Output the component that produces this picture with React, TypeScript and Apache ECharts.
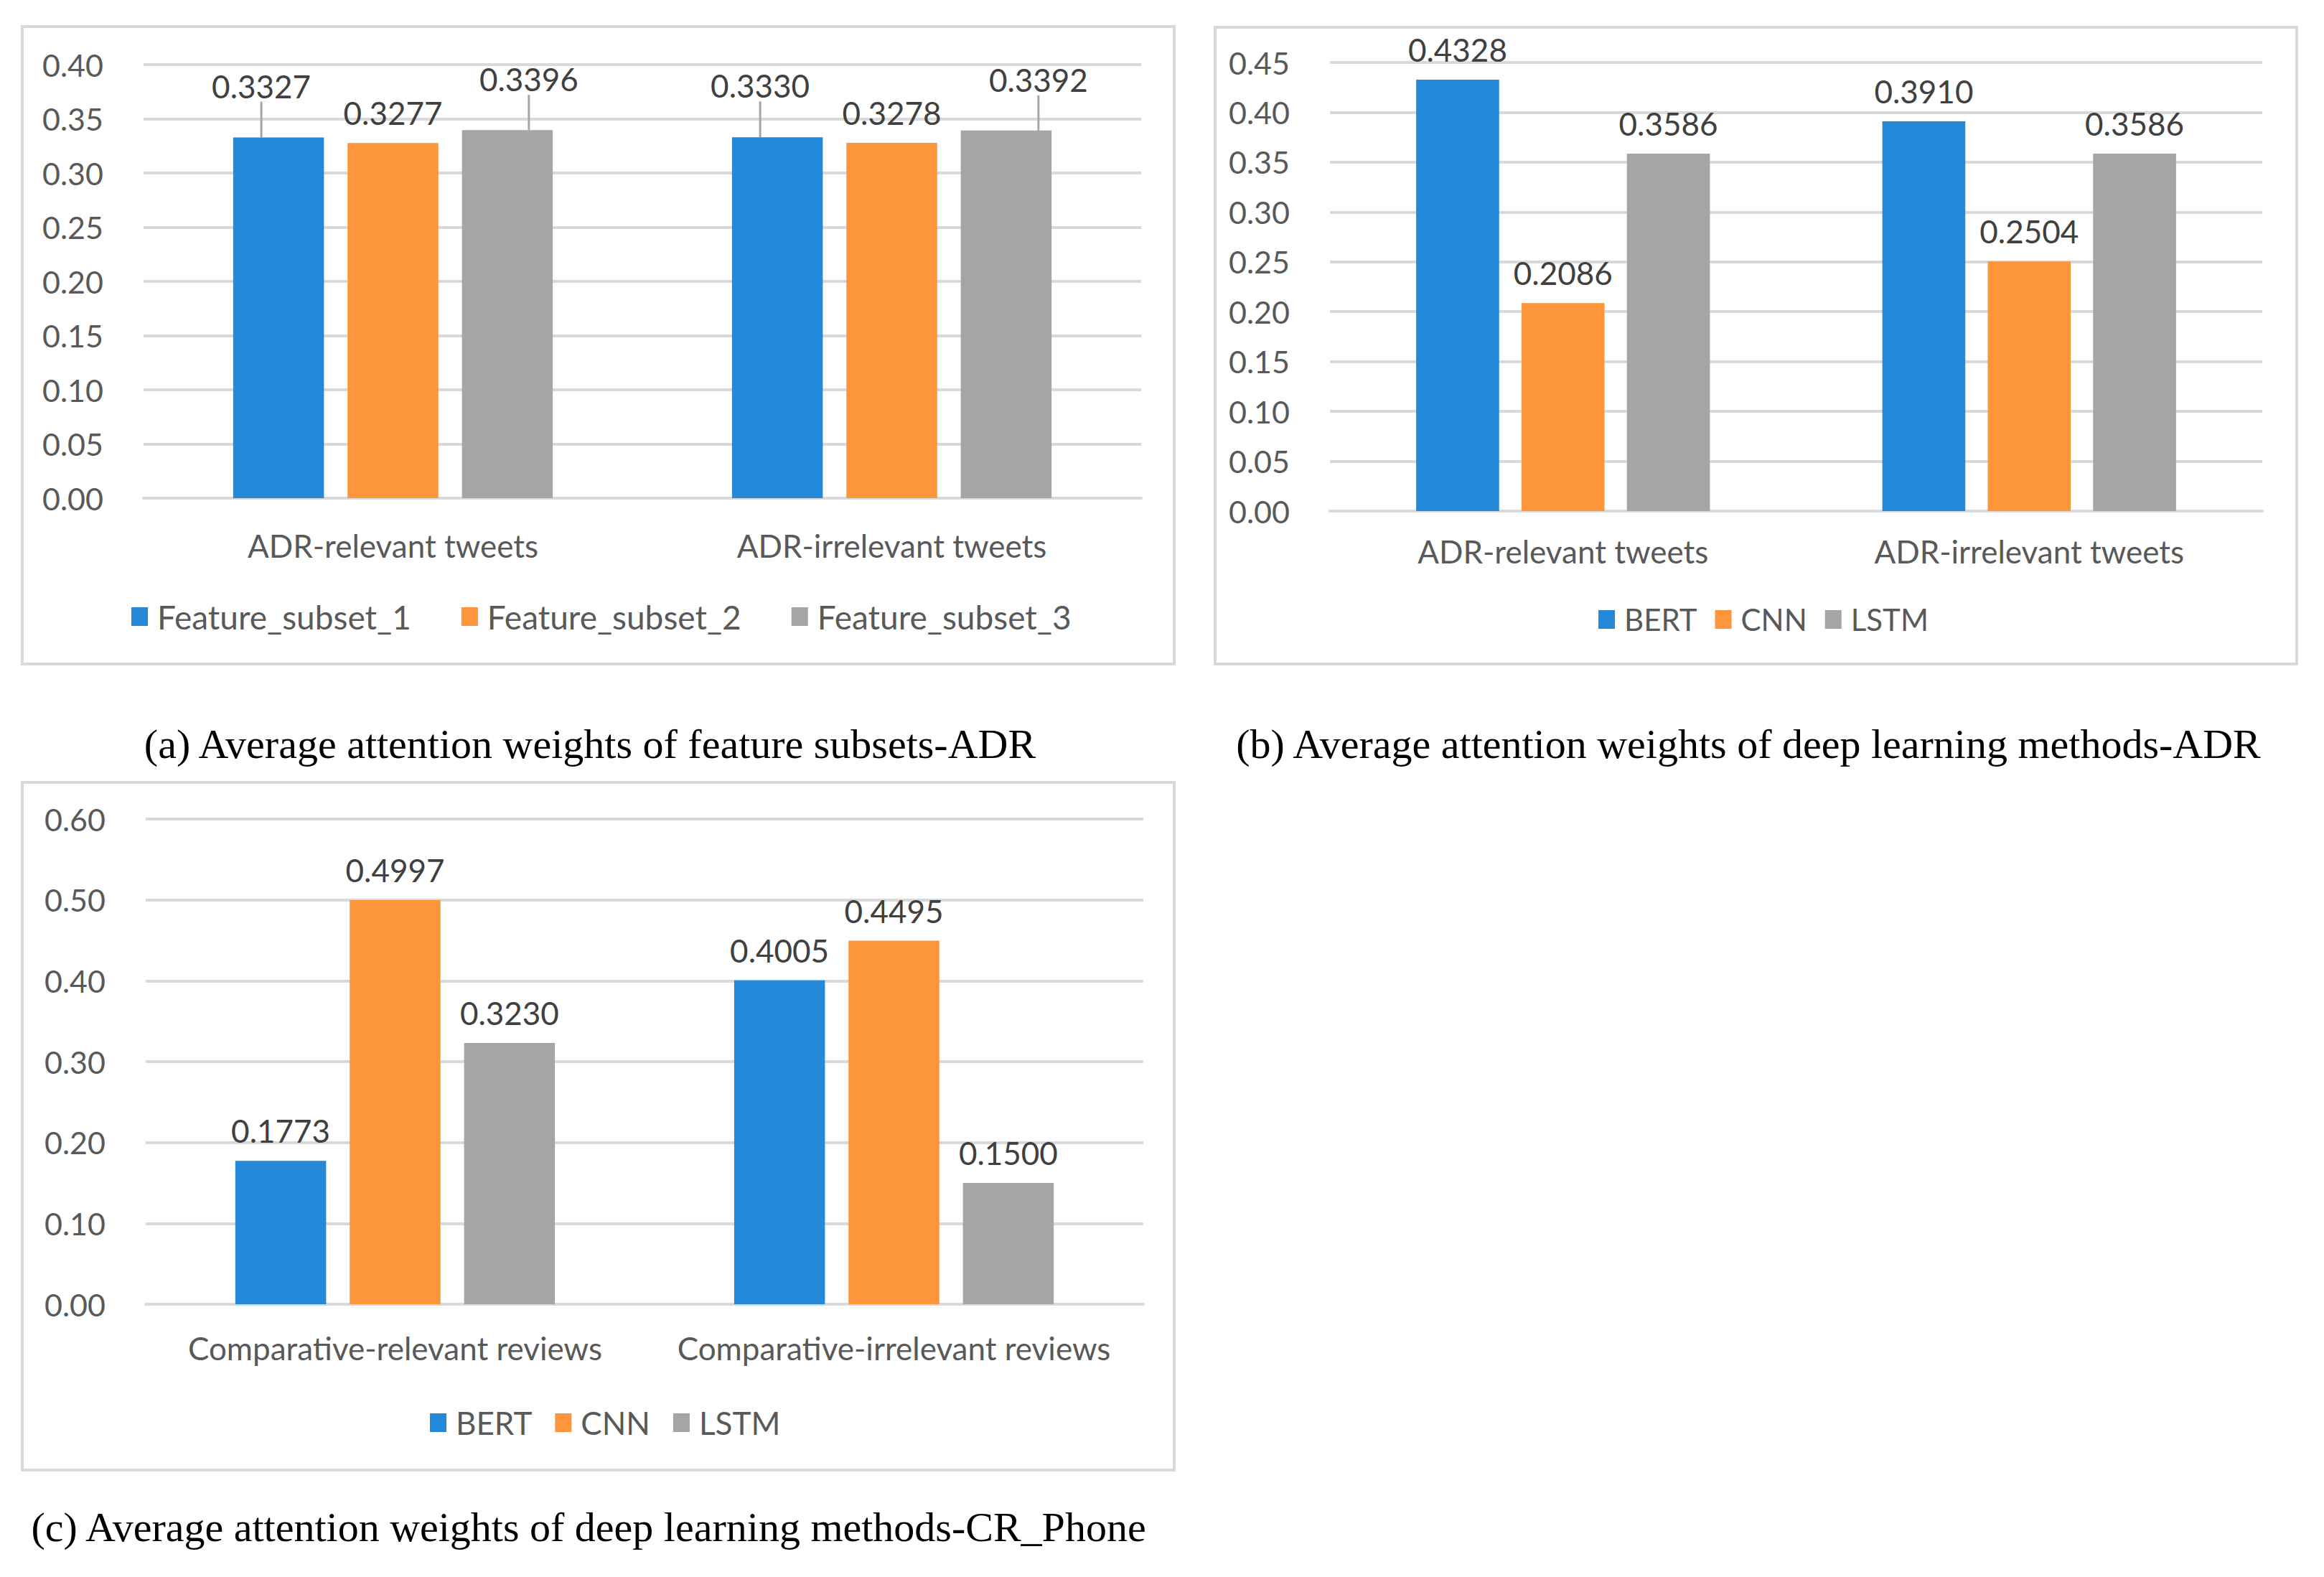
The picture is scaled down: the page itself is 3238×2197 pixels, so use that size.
import React, { useEffect, useRef } from "react";
import * as echarts from "echarts";

const categoriesADR = ["ADR-relevant tweets", "ADR-irrelevant tweets"];
const categoriesCR = ["Comparative-relevant reviews", "Comparative-irrelevant reviews"];

const featureSubset1 = [0.3327, 0.333];
const featureSubset2 = [0.3277, 0.3278];
const featureSubset3 = [0.3396, 0.3392];

const bertADR = [0.4328, 0.391];
const cnnADR = [0.2086, 0.2504];
const lstmADR = [0.3586, 0.3586];

const bertCR = [0.1773, 0.4005];
const cnnCR = [0.4997, 0.4495];
const lstmCR = [0.323, 0.15];

const namesA = ["Feature_subset_1", "Feature_subset_2", "Feature_subset_3"];
const namesDL = ["BERT", "CNN", "LSTM"];

const captionA = "(a) Average attention weights of feature subsets-ADR";
const captionB = "(b) Average attention weights of deep learning methods-ADR";
const captionC = "(c) Average attention weights of deep learning methods-CR_Phone";

const COLORS = ["#2389d8", "#fd953c", "#a5a5a5"];
const FONT = "Lato";
const AXIS_TEXT = "#595959";
const LABEL_TEXT = "#404040";
const GRID_LINE = "#d9d9d9";

export default function App() {
  const ref = useRef<HTMLDivElement>(null);

  useEffect(() => {
    document.body.style.margin = "0";
    if (!ref.current) return;
    const chart = echarts.init(ref.current, null, { renderer: "svg" });

    const makeX = (gridIndex: number, data: string[], margin: number) => ({
      type: "category",
      gridIndex,
      data,
      axisTick: { show: false },
      axisLine: { show: true, lineStyle: { color: GRID_LINE, width: 4 } },
      axisLabel: {
        color: AXIS_TEXT,
        fontFamily: FONT,
        fontSize: 44,
        margin,
        interval: 0,
      },
    });
    const makeY = (gridIndex: number, max: number, interval: number) => ({
      type: "value",
      gridIndex,
      min: 0,
      max,
      interval,
      axisLine: { show: false },
      axisTick: { show: false },
      splitLine: { show: true, lineStyle: { color: GRID_LINE, width: 4 } },
      axisLabel: {
        color: AXIS_TEXT,
        fontFamily: FONT,
        fontSize: 43,
        margin: 56,
        formatter: (v: number) => v.toFixed(2),
      },
    });

    const baseLabel = {
      show: true,
      position: "top",
      distance: 20,
      color: LABEL_TEXT,
      fontFamily: FONT,
      fontSize: 44,
      formatter: (p: any) => Number(p.value).toFixed(4),
    };

    const makeBar = (
      name: string,
      data: number[],
      idx: number,
      axis: number,
      width: string,
      gap: string,
      extra: any = {}
    ) => ({
      type: "bar",
      name,
      data,
      xAxisIndex: axis,
      yAxisIndex: axis,
      barWidth: width,
      barGap: gap,
      itemStyle: { color: COLORS[idx] },
      label: baseLabel,
      ...extra,
    });

    const leader = { show: true, lineStyle: { color: "#a6a6a6", width: 3 } };

    const series = [
      makeBar(namesA[0], featureSubset1, 0, 0, "18.2%", "26%", {
        labelLayout: () => ({ dx: -24, dy: -30 }),
        labelLine: leader,
      }),
      makeBar(namesA[1], featureSubset2, 1, 0, "18.2%", "26%"),
      makeBar(namesA[2], featureSubset3, 2, 0, "18.2%", "26%", {
        labelLayout: (p: any) => ({ dx: p.dataIndex === 0 ? 30 : 45, dy: -29 }),
        labelLine: leader,
      }),
      makeBar(namesDL[0], bertADR, 0, 1, "17.8%", "27%"),
      makeBar(namesDL[1], cnnADR, 1, 1, "17.8%", "27%"),
      makeBar(namesDL[2], lstmADR, 2, 1, "17.8%", "27%"),
      makeBar(namesDL[0], bertCR, 0, 2, "18.2%", "26%"),
      makeBar(namesDL[1], cnnCR, 1, 2, "18.2%", "26%"),
      makeBar(namesDL[2], lstmCR, 2, 2, "18.2%", "26%"),
    ];

    const legendBase = (fontSize: number) => ({
      orient: "horizontal",
      icon: "rect",
      itemWidth: 23,
      itemHeight: 26,
      textStyle: {
        color: AXIS_TEXT,
        fontFamily: FONT,
        fontSize,
        padding: [0, 0, 0, 8],
      },
      selectedMode: false,
    });

    const panel = (x: number, y: number, w: number, h: number) => ({
      type: "rect",
      z: -10,
      shape: { x, y, width: w, height: h },
      style: { fill: "#ffffff", stroke: GRID_LINE, lineWidth: 4 },
      silent: true,
    });
    const caption = (text: string, x: number, y: number) => ({
      type: "text",
      x,
      y,
      style: {
        text,
        fill: "#000000",
        font: '58px "Liberation Serif"',
        align: "center",
        verticalAlign: "middle",
      },
      silent: true,
    });

    chart.setOption({
      animation: false,
      backgroundColor: "#ffffff",
      grid: [
        { left: 200, right: 1648, top: 90, height: 604 },
        { left: 1853, right: 86, top: 87, height: 625 },
        { left: 203, right: 1645, top: 1141, height: 676 },
      ],
      xAxis: [
        makeX(0, categoriesADR, 44),
        makeX(1, categoriesADR, 34),
        makeX(2, categoriesCR, 39),
      ],
      yAxis: [makeY(0, 0.4, 0.05), makeY(1, 0.45, 0.05), makeY(2, 0.6, 0.1)],
      legend: [
        { ...legendBase(46), data: namesA, left: 178, top: 831, itemGap: 70 },
        { ...legendBase(42), data: namesDL, left: 2222, top: 837, itemGap: 25 },
        { ...legendBase(44), data: namesDL, left: 594, top: 1955, itemGap: 32 },
      ],
      graphic: [
        panel(31, 37, 1605, 888),
        panel(1693, 38, 1507, 887),
        panel(31, 1090, 1605, 958),
        caption(captionA, 822, 1036),
        caption(captionB, 2436, 1036),
        caption(captionC, 820, 2127),
      ],
      series,
    });

    return () => chart.dispose();
  }, []);

  return (
    <div
      ref={ref}
      style={{ position: "fixed", left: 0, top: 0, width: 3238, height: 2197 }}
    />
  );
}
